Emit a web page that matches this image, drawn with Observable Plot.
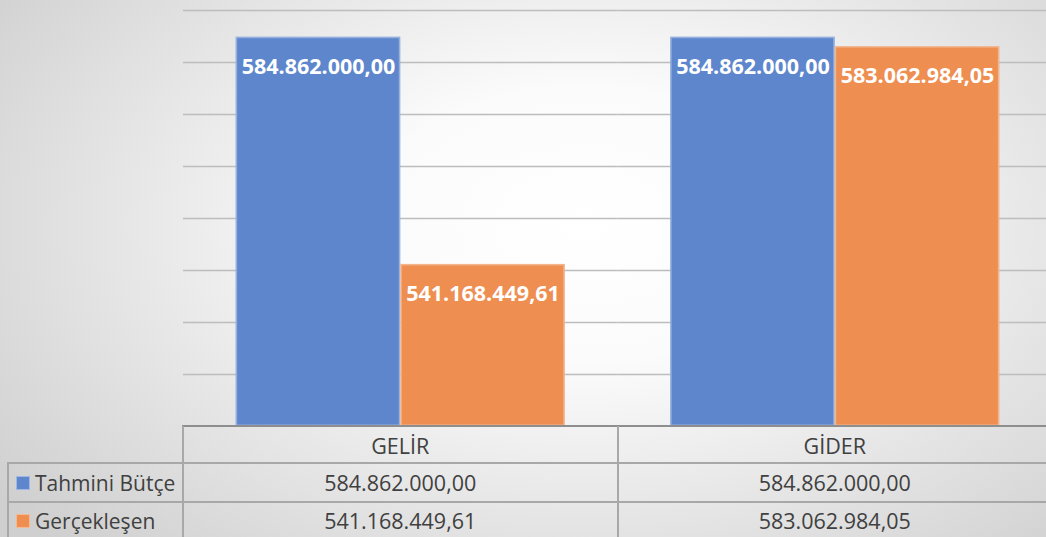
<!DOCTYPE html>
<html><head><meta charset="utf-8">
<script src="https://cdn.jsdelivr.net/npm/d3@7"></script>
<script src="https://cdn.jsdelivr.net/npm/@observablehq/plot@0.6"></script>
<style>
body{margin:0;}
#wrap{position:relative;width:1046px;height:537px;overflow:hidden;
  background:radial-gradient(ellipse 70% 85% at 56% 42%, #ffffff 0%, #fbfbfb 30%, #cfcfcf 100%);
  font-family:"Open Sans",sans-serif;}
.ln{position:absolute;background:#a8a8a8;}
.cell{position:absolute;font-size:21.5px;color:#404040;text-align:center;line-height:30px;height:30px;white-space:nowrap;}
.leg{position:absolute;font-size:21px;color:#404040;line-height:30px;height:30px;white-space:nowrap;}
.sw{position:absolute;width:12px;height:12px;}
</style></head><body><div id="wrap"></div>
<script>
const categories = ["GELİR", "GİDER"];
const seriesNames = ["Tahmini Bütçe", "Gerçekleşen"];
const tahmini = [584862000.00, 584862000.00];
const gerceklesen = [541168449.61, 583062984.05];
const gridValues = [510e6, 520e6, 530e6, 540e6, 550e6, 560e6, 570e6, 580e6, 590e6];
const yMin = 510e6, yMax = 590e6;
const colors = ["#5D86CC", "#EE8E51"];
const swatchBorders = ["#9fb7e2", "#f5b994"];

const trLocale = d3.formatLocale({decimal: ",", thousands: ".", grouping: [3], currency: ["", ""]});
const fmt = trLocale.format(",.2f");

const data = categories.flatMap((c, i) => [
  {cat: c, series: seriesNames[0], value: tahmini[i]},
  {cat: c, series: seriesNames[1], value: gerceklesen[i]}
]);

const W = 1046, H = 428, mL = 183, mR = -6;
const plot = Plot.plot({
  width: W, height: H,
  marginLeft: mL, marginRight: mR, marginTop: 10, marginBottom: 2,
  style: {background: "transparent", fontFamily: "Open Sans"},
  fx: {domain: categories, padding: 0, axis: null, round: false},
  x: {domain: seriesNames, paddingInner: 0, paddingOuter: 0.32, axis: null, round: false},
  y: {domain: [yMin, yMax], axis: null},
  color: {domain: seriesNames, range: colors},
  marks: [
    Plot.ruleY(gridValues.slice(1), {stroke: "#bdbdbd", strokeWidth: 1.5}),
    Plot.barY(data, {fx: "cat", x: "series", y1: yMin, y2: "value", fill: "series"}),
    Plot.barY(data, {fx: "cat", x: "series", y1: yMin, y2: "value", fill: "none", stroke: "white", strokeOpacity: 0.35, strokeWidth: 1.5, inset: 0.75}),
    Plot.text(data, {fx: "cat", x: "series", y: "value", text: d => fmt(d.value), dy: 30,
      fill: "white", fontWeight: "bold", fontSize: 21.5, fontFamily: "Open Sans", lineAnchor: "middle"})
  ]
});
const wrap = document.getElementById("wrap");
plot.style.position = "absolute";
plot.style.left = "0px";
plot.style.top = "0px";
wrap.appendChild(plot);

// data table below the chart
const band = d3.scaleBand().domain(categories).range([mL, W - mR]).padding(0);
function line(x, y, w, h, color) {
  const d = document.createElement("div");
  d.className = "ln";
  Object.assign(d.style, {left: x + "px", top: y + "px", width: w + "px", height: h + "px"});
  if (color) d.style.background = color;
  wrap.appendChild(d);
}
function cell(text, cx, cy) {
  const d = document.createElement("div");
  d.className = "cell";
  d.textContent = text;
  Object.assign(d.style, {left: (cx - 150) + "px", width: "300px", top: (cy - 15) + "px"});
  wrap.appendChild(d);
}
const rowY = [446, 483, 521];
line(mL - 1, 425, W - mL + 1, 2, "#8e8e8e");
line(7, 462, W, 2);
line(7, 501, W, 2);
line(7, 462, 2, 80);
line(mL - 1.5, 426, 2, 120);
categories.forEach((c, i) => {
  if (i > 0) line(band(c) - 1, 426, 2, 120);
  const cx = band(c) + band.bandwidth() / 2;
  cell(c, cx, rowY[0]);
  cell(fmt(tahmini[i]), cx, rowY[1]);
  cell(fmt(gerceklesen[i]), cx, rowY[2]);
});
seriesNames.forEach((s, i) => {
  const sw = document.createElement("div");
  sw.className = "sw";
  Object.assign(sw.style, {left: "16px", top: (rowY[i + 1] - 7) + "px", background: colors[i], border: "1px solid " + swatchBorders[i]});
  wrap.appendChild(sw);
  const t = document.createElement("div");
  t.className = "leg";
  t.textContent = s;
  Object.assign(t.style, {left: "35px", top: (rowY[i + 1] - 15) + "px"});
  wrap.appendChild(t);
});
</script></body></html>
